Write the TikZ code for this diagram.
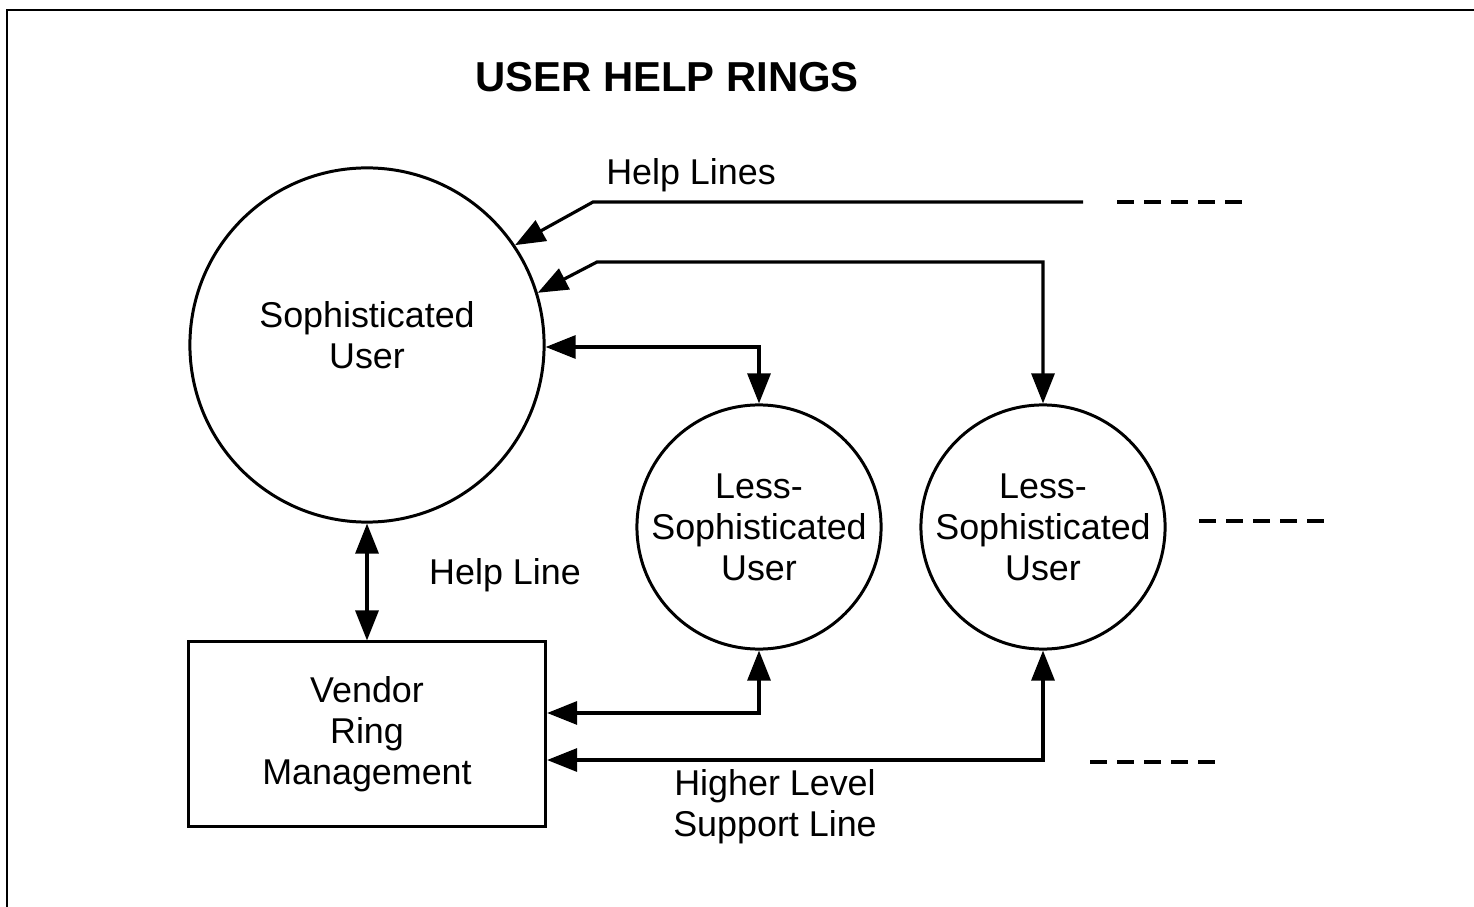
\documentclass[tikz,border=0pt]{standalone}
\usepackage{fontspec}
\setmainfont{Liberation Sans}
\usetikzlibrary{arrows.meta, positioning}

\begin{document}
\begin{tikzpicture}[
  x=0.01cm, y=-0.01cm,
  txt/.style={font=\fontsize{10.2}{11.7}\selectfont, align=center},
  ring/.style={draw, circle, line width=0.85pt, inner sep=0pt, txt},
  box/.style={draw, line width=0.85pt, minimum width=3.57cm, minimum height=1.84cm, txt},
  arr/.style={-{Triangle[length=3mm, width=2.3mm]}, line width=0.9pt},
  dbl/.style={{Triangle[length=3mm, width=2.3mm]}-{Triangle[length=3mm, width=2.3mm]}, line width=0.9pt},
  dashline/.style={line width=0.9pt, dash pattern=on 1.7mm off 1mm}
]
  \useasboundingbox (0,0) rectangle (1474,907);
  \draw[line width=0.6pt] (1474,10) -- (7,10) -- (7,907);

  \node[font=\fontsize{11.9}{14}\selectfont\bfseries] (title) at (667,77) {USER HELP RINGS};

  \node[ring, minimum size=3.54cm,
        label={[txt, yshift=0.1cm]center:Sophisticated\\User}] (soph) at (367,345) {};
  \node[ring, minimum size=2.44cm] (less1) at (759,527) {Less-\\Sophisticated\\User};
  \node[ring, minimum size=2.44cm] (less2) at (1043,527) {Less-\\Sophisticated\\User};
  \node[box] (vendor) at (367,734) {Vendor\\Ring\\Management};

  \coordinate (hl) at (1083,202);
  \coordinate (hlbend) at (593,202);
  \coordinate (ltbend) at (597,262);

  \draw[arr] (hl) -- (hlbend) -- (soph.34);
  \draw[dbl] (soph.17) -- (ltbend) -| (less2.north);
  \draw[dbl] ([yshift=-0.02cm]soph.east) -| (less1.north);
  \draw[dbl] (soph.south) -- (vendor.north);
  \draw[dbl] (less1.south) |- ([yshift=0.21cm]vendor.east);
  \draw[dbl] (less2.south) |- ([yshift=-0.26cm]vendor.east);

  \node[txt] (hllabel) at (691,175) {Help Lines};
  \node[txt] (helpline) at (505,575) {Help Line};
  \node[txt] (support) at (775,807) {Higher Level\\Support Line};

  \draw[dashline] (1117,202) -- (1243,202);
  \draw[dashline] (1199,521) -- (1326,521);
  \draw[dashline] (1090,762) -- (1217,762);
\end{tikzpicture}
\end{document}
